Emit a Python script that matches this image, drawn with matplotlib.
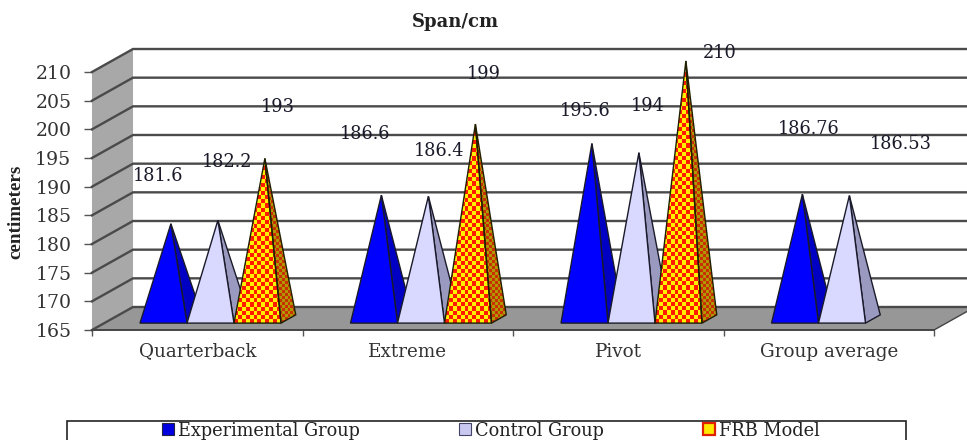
import numpy as np
import matplotlib
matplotlib.use("Agg")
import matplotlib.pyplot as plt
from matplotlib.patches import Polygon, Rectangle, Patch

categories = ["Quarterback", "Extreme", "Pivot", "Group average"]
series_names = ["Experimental Group", "Control Group", "FRB Model"]
experimental = [181.6, 186.6, 195.6, 186.76]
control = [182.2, 186.4, 194, 186.53]
frb_model = [193, 199, 210, None]
y_ticks = [165, 170, 175, 180, 185, 190, 195, 200, 205, 210]
y_title = "centimeters"
chart_title = "Span/cm"

# label offset from pyramid apex, in pixels (x right, y up)
label_offsets = [
    [(-13, 48), (9, 58), (13, 51)],
    [(-16, 61), (11, 45), (8, 50)],
    [(-7, 33), (9, 47), (34, 8)],
    [(6, 65), (51, 52), None],
]

W, H = 967, 440
fig = plt.figure(figsize=(W / 100, H / 100), dpi=100)
L, R, T, B = 92, 934, 72, 330
ax = fig.add_axes([L / W, 1 - B / H, (R - L) / W, (B - T) / H])
ax.patch.set_visible(False)
for s in ax.spines.values():
    s.set_visible(False)

px_x = 4 / (R - L)            # data units per pixel
px_y = 45 / (B - T)
DX, DY = 41 * px_x, 23 * px_y  # full chart depth, in data units


def proj(x, y, d):
    return (x + d * DX, y + d * DY)


ymin, ymax = y_ticks[0], y_ticks[-1]
FLOOR = "#979797"
WALL = "#A8A8A8"
GRID = "#4a4a4a"

ax.add_patch(Polygon([proj(0, ymin, 0), proj(0, ymax, 0), proj(0, ymax, 1), proj(0, ymin, 1)],
                     fc=WALL, ec="none", clip_on=False, zorder=1))
ax.add_patch(Polygon([proj(0, ymin, 0), proj(0, ymin, 1), proj(4, ymin, 1), proj(4, ymin, 0)],
                     fc=FLOOR, ec="none", clip_on=False, zorder=1))
for v in y_ticks:
    a, b, c = proj(0, v, 0), proj(0, v, 1), proj(4, v, 1)
    ax.plot([a[0], b[0], c[0]], [a[1], b[1], c[1]], color=GRID, lw=1.7, clip_on=False, zorder=2,
            solid_joinstyle="miter")
ax.plot([0, 4], [ymin, ymin], color="#444444", lw=1.4, clip_on=False, zorder=2)
e1, e2 = proj(4, ymin, 0), proj(4, ymin, 1)
ax.plot([e1[0], e2[0]], [e1[1], e2[1]], color="#444444", lw=1.0, clip_on=False, zorder=2)

D0, D1, DA = 0.30, 0.66, 0.48
BAR_W = 47 * px_x
START = (140 - 92 - D0 * 41) * px_x

face_cols = ["#0000FF", "#D9D9FF", None]
side_cols = ["#0000C4", "#9A9AC0", None]


def checker(poly_pts, cell_px, c1, c2, z):
    pts = np.array(poly_pts)
    x0, x1 = pts[:, 0].min(), pts[:, 0].max()
    y0, y1 = pts[:, 1].min(), pts[:, 1].max()
    nx = max(2, int((x1 - x0) / px_x / cell_px) + 1)
    ny = max(2, int((y1 - y0) / px_y / cell_px) + 1)
    g = np.indices((ny, nx)).sum(axis=0) % 2
    img = np.zeros((ny, nx, 3))
    img[g == 0] = matplotlib.colors.to_rgb(c1)
    img[g == 1] = matplotlib.colors.to_rgb(c2)
    im = ax.imshow(img, extent=(x0, x1, y0, y1), origin="lower", aspect="auto",
                   interpolation="nearest", zorder=z)
    clip = Polygon(poly_pts, transform=ax.transData, fc="none", ec="none")
    ax.add_patch(clip)
    im.set_clip_path(clip)
    im.set_clip_on(True)


all_series = [experimental, control, frb_model]
z = 3
for gi in range(len(categories)):
    for si, values in enumerate(all_series):
        v = values[gi]
        if v is None:
            continue
        xl = gi + START + si * BAR_W
        xr = xl + BAR_W
        base = ymin
        apex = proj((xl + xr) / 2, v, DA)
        fl, fr = proj(xl, base, D0), proj(xr, base, D0)
        br = proj(xr, base, D1)
        front = [fl, fr, apex]
        side = [fr, br, apex]
        if face_cols[si]:
            ax.add_patch(Polygon(side, fc=side_cols[si], ec="#1a1a2a", lw=1.0, clip_on=False, zorder=z))
            ax.add_patch(Polygon(front, fc=face_cols[si], ec="#1a1a2a", lw=1.0, clip_on=False, zorder=z + 0.1))
        else:
            checker(side, 3.0, "#C83000", "#B09800", z)
            checker(front, 4.2, "#FF1A00", "#FFF000", z + 0.1)
            ax.add_patch(Polygon(side, fc="none", ec="#202000", lw=1.0, clip_on=False, zorder=z + 0.2))
            ax.add_patch(Polygon(front, fc="none", ec="#202000", lw=1.0, clip_on=False, zorder=z + 0.2))
        z += 1
        off = label_offsets[gi][si]
        ax.annotate(f"{v:g}", xy=apex, xytext=off, textcoords="offset pixels",
                    ha="center", va="center", family="DejaVu Serif", fontsize=12.8,
                    color="#1a1a2a", zorder=50, annotation_clip=False)

ax.set_xlim(0, 4)
ax.set_ylim(ymin, ymax)

ax.set_yticks(y_ticks)
ax.set_yticklabels([str(t) for t in y_ticks], family="DejaVu Serif", fontsize=13.6, color="#333333")
ax.tick_params(axis="y", length=5.8, width=1, color="#555555", pad=9)
ax.set_xticks(range(5))
ax.set_xticklabels([])
ax.tick_params(axis="x", which="major", length=4, width=1, color="#555555")
ax.set_xticks(np.arange(len(categories)) + 0.5, minor=True)
ax.set_xticklabels(categories, minor=True, family="DejaVu Serif", fontsize=13.2, color="#333333")
ax.tick_params(axis="x", which="minor", length=0, pad=9)

ax.set_ylabel(y_title, family="Liberation Serif", weight="bold", fontsize=13.8, color="#222222")
ax.yaxis.set_label_coords((24 - L) / (R - L), (B - 212) / (B - T))
ax.set_title(chart_title, x=(455 - L) / (R - L), y=(B - 27) / (B - T), pad=0,
             family="DejaVu Serif", weight="bold", fontsize=13, color="#222222")

# legend frame, running past the bottom of the picture
fig.add_artist(Rectangle((67 / W, 1 - 460 / H), (906 - 67) / W, (460 - 421) / H,
                         transform=fig.transFigure, fc="white", ec="#222222", lw=1.2))
handles = [
    Patch(fc="#0000E0", ec="#222244", lw=0.8),
    Patch(fc="#C8C8F0", ec="#444466", lw=0.8),
    Patch(fc="#FFE800", ec="#E02000", lw=1.6),
]
leg = fig.legend(handles, series_names, loc="center", bbox_to_anchor=(491 / W, 1 - 430.5 / H),
                 ncol=3, frameon=False, prop={"family": "DejaVu Serif", "size": 12.8},
                 handlelength=0.68, handleheight=0.62, handletextpad=0.2, columnspacing=5.6,
                 borderpad=0, labelcolor="#222222")

fig.savefig("out.png", dpi=100)
